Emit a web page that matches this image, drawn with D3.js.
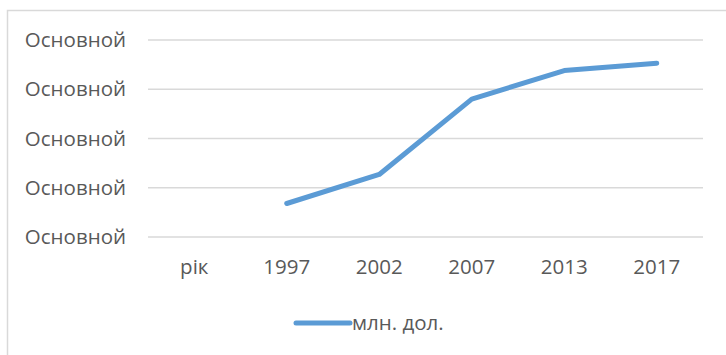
<!DOCTYPE html>
<html>
<head>
<meta charset="utf-8">
<script src="https://cdn.jsdelivr.net/npm/d3@7"></script>
<style>
  html, body { margin: 0; padding: 0; background: #fff; }
  svg { display: block; }
  text { font-family: "Open Sans", "Noto Sans", sans-serif; fill: #595959; }
</style>
</head>
<body>
<svg id="chart" width="726" height="355"></svg>
<script>
// Categories along the x axis (the first one carries no value)
const categories = ["рік", "1997", "2002", "2007", "2013", "2017"];
// Series "млн. дол." (null = no value for that category)
const values = [null, 0.68, 1.27, 2.80, 3.38, 3.53];
// Value axis ticks and their labels
const yTicks = [0, 1, 2, 3, 4];
const yTickLabels = ["Основной", "Основной", "Основной", "Основной", "Основной"];
const seriesName = "млн. дол.";

const svg = d3.select("#chart");
const W = 726, H = 355;
const plot = { left: 148, right: 703, top: 40, bottom: 237 };
const lineColor = "#5B9BD5";
const fontSize = "20.5px";

// chart area frame
svg.append("rect")
  .attr("x", 7.5).attr("y", 10.5)
  .attr("width", W + 10).attr("height", H + 10)
  .attr("fill", "#fff")
  .attr("stroke", "#d9d9d9").attr("stroke-width", 1.5);

const x = d3.scaleBand().domain(categories).range([plot.left, plot.right]);
const y = d3.scaleLinear().domain([0, 4]).range([plot.bottom, plot.top]);

// horizontal gridlines
svg.append("g")
  .selectAll("line")
  .data(yTicks)
  .join("line")
  .attr("x1", plot.left).attr("x2", plot.right)
  .attr("y1", d => y(d)).attr("y2", d => y(d))
  .attr("stroke", "#d9d9d9").attr("stroke-width", 1.5);

// value axis labels
const yAxis = d3.axisLeft(y)
  .tickValues(yTicks)
  .tickSize(0)
  .tickPadding(22)
  .tickFormat((d, i) => yTickLabels[i]);
const gy = svg.append("g").attr("transform", `translate(${plot.left},0)`).call(yAxis);
gy.select(".domain").remove();
gy.selectAll("text")
  .attr("font-family", null)
  .style("font-size", fontSize)
  .attr("fill", "#595959");

// category axis labels
const xAxis = d3.axisBottom(x).tickSize(0).tickPadding(22);
const gx = svg.append("g").attr("transform", `translate(0,${plot.bottom})`).call(xAxis);
gx.select(".domain").remove();
gx.selectAll("text")
  .attr("font-family", null)
  .style("font-size", fontSize)
  .attr("fill", "#595959");

// series line
const line = d3.line()
  .defined(d => d.v !== null)
  .x(d => x(d.c) + x.bandwidth() / 2)
  .y(d => y(d.v));
svg.append("path")
  .datum(categories.map((c, i) => ({ c, v: values[i] })))
  .attr("d", line)
  .attr("fill", "none")
  .attr("stroke", lineColor)
  .attr("stroke-width", 5)
  .attr("stroke-linecap", "round")
  .attr("stroke-linejoin", "round");

// legend
const legend = svg.append("g").attr("transform", "translate(296,323)");
legend.append("line")
  .attr("x1", 0).attr("x2", 54)
  .attr("y1", 0).attr("y2", 0)
  .attr("stroke", lineColor).attr("stroke-width", 5)
  .attr("stroke-linecap", "round");
legend.append("text")
  .attr("x", 56).attr("y", 0)
  .attr("dy", "0.35em")
  .style("font-size", fontSize)
  .text(seriesName);
</script>
</body>
</html>
